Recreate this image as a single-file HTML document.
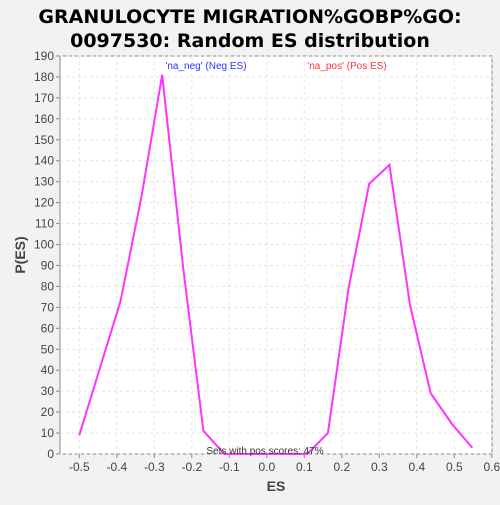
<!DOCTYPE html>
<html><head><meta charset="utf-8"><style>
body{margin:0;background:#f2f2f2;width:500px;height:500px;overflow:hidden;font-family:"Liberation Sans",sans-serif}
</style></head><body>
<svg id="c" width="500" height="500" xmlns="http://www.w3.org/2000/svg">
<text x="250" y="23" text-anchor="middle" font-size="19" font-weight="bold" font-family="DejaVu Sans, sans-serif">GRANULOCYTE MIGRATION%GOBP%GO:</text>
<text x="250" y="47" text-anchor="middle" font-size="19" font-weight="bold" font-family="DejaVu Sans, sans-serif">0097530: Random ES distribution</text>
<rect x="60" y="56" width="432" height="398" fill="#fff" stroke="#888"/>
<g id="grid"></g><g id="axes"></g>
<text x="206" y="69" text-anchor="middle" font-size="10" fill="#3333ff">'na_neg' (Neg ES)</text>
<text x="347" y="69" text-anchor="middle" font-size="10" fill="#ff3333">'na_pos' (Pos ES)</text>
<path id="line" fill="none" stroke="#ff33ff" stroke-width="2"/>
<text x="265" y="454" text-anchor="middle" font-size="10" fill="#333">Sets with pos scores: 47%</text>
<text x="276" y="491" text-anchor="middle" font-size="14" font-weight="bold" fill="#444">ES</text>
<text x="25" y="255" text-anchor="middle" font-size="14" font-weight="bold" fill="#444" transform="rotate(-90 25 255)">P(ES)</text>
</svg>
<script>
const esValues=[-0.5,-0.445,-0.39,-0.334,-0.279,-0.223,-0.169,-0.113,-0.058,-0.003,0.053,0.108,0.163,0.218,0.273,0.327,0.382,0.437,0.493,0.548];
const density=[9,41,73,123,181,89,11,0,0,0,0,0,10,79,129,138,71,29,14.5,3];
const xTicks=[-0.5,-0.4,-0.3,-0.2,-0.1,0.0,0.1,0.2,0.3,0.4,0.5,0.6];
const yTicks=[0,10,20,30,40,50,60,70,80,90,100,110,120,130,140,150,160,170,180,190];
const X=v=>79.3+(v+0.5)*375;
const Y=v=>454-v*398/190;
const ns="http://www.w3.org/2000/svg";
const grid=document.getElementById('grid'),axes=document.getElementById('axes');
function mk(t,a,p){const e=document.createElementNS(ns,t);for(const k in a)e.setAttribute(k,a[k]);p.appendChild(e);return e;}
xTicks.forEach(v=>{
 const g=mk('line',{x1:X(v),x2:X(v),y1:56,y2:454,stroke:'#e4e4e4','stroke-dasharray':'3,3'},grid);
 
 
 mk('line',{x1:X(v),x2:X(v),y1:454,y2:458,stroke:'#888'},axes);
 const t=mk('text',{x:X(v),y:471,'text-anchor':'middle','font-size':12,fill:'#444'},axes);
 t.textContent=v.toFixed(1);
 
 
});
yTicks.forEach(v=>{
 const g=mk('line',{x1:60,x2:492,y1:Y(v),y2:Y(v),stroke:'#e4e4e4','stroke-dasharray':'3,3'},grid);
 
 
 mk('line',{x1:56,x2:60,y1:Y(v),y2:Y(v),stroke:'#888'},axes);
 const t=mk('text',{x:54,y:Y(v)+4,'text-anchor':'end','font-size':12,fill:'#444'},axes);
 t.textContent=v;
 
 
});
document.getElementById('line').setAttribute('d',esValues.map((v,i)=>(i?'L':'M')+X(v)+','+Y(density[i])).join(' '));
</script>
</body></html>
